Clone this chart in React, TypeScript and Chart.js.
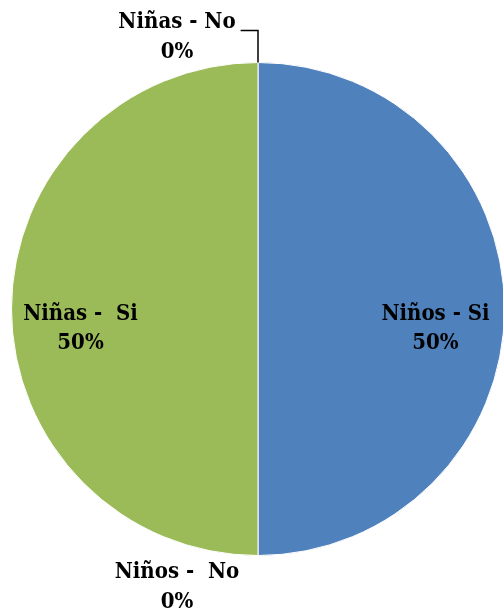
import React, { useEffect, useRef } from "react";
import { Chart, registerables } from "chart.js";

Chart.register(...registerables);

const categories = ["Niños - Si", "Niños -  No", "Niñas -  Si", "Niñas - No"];
const values = [50, 0, 50, 0];
const colors = ["#4F81BD", "#C0504D", "#9BBB59", "#8064A2"];

const FONT = "bold 22px 'DejaVu Serif Condensed', 'DejaVu Serif'";

const labelPlugin = {
  id: "pieLabels",
  afterDatasetsDraw(chart: any) {
    const ctx = chart.ctx;
    const meta = chart.getDatasetMeta(0);
    const total = values.reduce((a, b) => a + b, 0);
    ctx.save();
    ctx.font = FONT;
    ctx.fillStyle = "#000";
    ctx.textAlign = "center";
    ctx.textBaseline = "middle";
    meta.data.forEach((arc: any, i: number) => {
      const { x, y, outerRadius, startAngle, endAngle } = arc.getProps(
        ["x", "y", "outerRadius", "startAngle", "endAngle"],
        true
      );
      const pct = Math.round((values[i] / total) * 100) + "%";
      const mid = (startAngle + endAngle) / 2;
      let lx: number, ly: number;
      let gap = 29;
      if (values[i] > 0) {
        lx = x + Math.cos(mid) * outerRadius * 0.72;
        ly = y + 5;
      } else {
        const top = Math.sin(mid) < 0;
        lx = x - 81;
        ly = top ? y - outerRadius - 40 : y + outerRadius + 17;
        gap = 30;
        if (top) {
          const w = ctx.measureText(categories[i]).width;
          ctx.strokeStyle = "#000";
          ctx.lineWidth = 1.5;
          ctx.beginPath();
          ctx.moveTo(lx + w / 2 + 5, ly + 8);
          ctx.lineTo(x, ly + 8);
          ctx.lineTo(x, y - outerRadius);
          ctx.stroke();
        }
      }
      ctx.fillText(categories[i], lx, ly);
      ctx.fillText(pct, lx, ly + gap);
    });
    ctx.restore();
  },
};

export default function App() {
  const ref = useRef<HTMLCanvasElement>(null);
  useEffect(() => {
    if (!ref.current) return;
    const chart = new Chart(ref.current, {
      type: "pie",
      data: {
        labels: categories,
        datasets: [
          {
            data: values,
            backgroundColor: colors,
            borderColor: "#ffffff",
            borderWidth: values.map((v) => (v > 0 ? 1 : 0)),
          },
        ],
      },
      options: {
        animation: false,
        responsive: false,
        layout: { padding: { left: 11, top: 62, right: 15, bottom: 60 } },
        plugins: {
          legend: { display: false },
          tooltip: { enabled: false },
        },
      },
      plugins: [labelPlugin],
    });
    return () => chart.destroy();
  }, []);
  return (
    <div
      style={{
        position: "fixed",
        left: 0,
        top: 0,
        width: 503,
        height: 616,
        overflow: "hidden",
        background: "#fff",
      }}
    >
      <canvas ref={ref} width={520} height={616} />
    </div>
  );
}
